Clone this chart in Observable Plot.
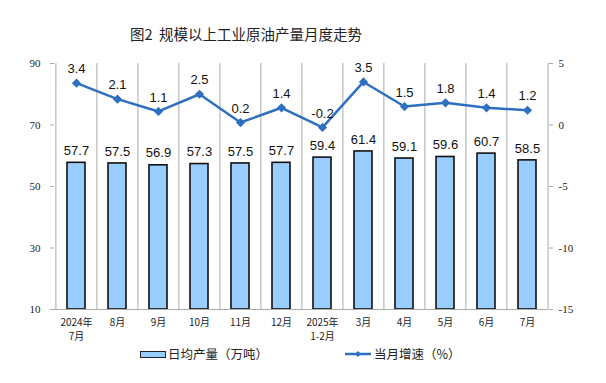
<!DOCTYPE html>
<html><head><meta charset="utf-8">
<script src="https://cdn.jsdelivr.net/npm/d3@7"></script>
<script src="https://cdn.jsdelivr.net/npm/@observablehq/plot@0.6"></script>
<style>
body{margin:0;background:#fff;width:606px;height:383px;overflow:hidden;font-family:"Noto Sans CJK SC",sans-serif;}
#title{height:50px;position:relative;}
#title span{position:absolute;left:246px;top:23px;transform:translateX(-50%);font-size:14.5px;color:#222;white-space:nowrap;}
#chart{height:300px;}
#legend{position:relative;height:33px;font-size:12.5px;color:#222;}
.sw{position:absolute;}
.lt{position:absolute;top:-6px;white-space:nowrap;}
</style></head>
<body>
<div id="title"><span>图2&nbsp;&nbsp;规模以上工业原油产量月度走势</span></div>
<div id="chart"></div>
<div id="legend">
  <div class="sw" style="left:140px;top:1px;width:24px;height:5px;background:#99ccff;border:1px solid #222;"></div>
  <div class="lt" style="left:168px;">日均产量（万吨）</div>
  <svg class="sw" style="left:344px;top:-2px" width="28" height="12"><line x1="1" y1="6" x2="27" y2="6" stroke="#2f6fc0" stroke-width="2.5"/><path d="M14,3L17,6L14,9L11,6Z" fill="#2f6fc0"/></svg>
  <div class="lt" style="left:374px;">当月增速（%）</div>
</div>
<script>
const categories = ["2024年\n7月","8月","9月","10月","11月","12月","2025年\n1-2月","3月","4月","5月","6月","7月"];
const output = [57.7,57.5,56.9,57.3,57.5,57.7,59.4,61.4,59.1,59.6,60.7,58.5];
const growth = [3.4,2.1,1.1,2.5,0.2,1.4,-0.2,3.5,1.5,1.8,1.4,1.2];
const leftTicks = [10,30,50,70,90];
const rightTicks = [-15,-10,-5,0,5];

// right axis (growth, -15..5) mapped onto left axis (10..90)
const toLeft = v => 70 + v * 4;

const bars = categories.map((c,i)=>({c, v: output[i]}));
const line = categories.map((c,i)=>({c, g: growth[i], y: toLeft(growth[i])}));

const chart = Plot.plot({
  width: 606,
  height: 300,
  marginTop: 13,
  marginBottom: 41,
  marginLeft: 54,
  marginRight: 58,
  x: {domain: categories, paddingInner: 0.57, paddingOuter: 0.285},
  y: {domain: [10, 90]},
  style: {fontFamily: "'Noto Sans CJK SC', sans-serif", color: "#222"},
  marks: [
    Plot.barY(bars, {x: "c", y1: 10, y2: "v", fill: "#99ccff", stroke: "#111", strokeWidth: 1.6}),
    Plot.ruleX([categories[0]], {x: d=>d, dx: -20.6, y1: 10, y2: 90, stroke: "#aaa"}),
    Plot.ruleX([categories[11]], {x: d=>d, dx: 20.6, y1: 10, y2: 90, stroke: "#aaa"}),
    Plot.ruleY([10], {stroke: "#aaa"}),
    Plot.tickX(categories.slice(1), {x: d=>d, dx: -20.6, y1: 10, y2: 11.3, stroke: "#aaa"}),
    Plot.axisY(leftTicks, {anchor: "left", tickSize: 4, tickPadding: 10, stroke: "#aaa", fontFamily: "'Liberation Serif', serif", fontSize: 11, label: null}),
    Plot.axisY(rightTicks.map(toLeft), {anchor: "right", tickSize: 4, tickPadding: 6, stroke: "#aaa", tickFormat: v => String((v-70)/4), fontFamily: "'Liberation Serif', serif", fontSize: 11, label: null}),
    Plot.axisX({tickSize: 0, tickPadding: 6, fontSize: 10, lineHeight: 1.45, label: null, fontFamily: "'Noto Sans CJK SC', sans-serif"}),
    Plot.text(bars, {x: "c", y: "v", text: d => d.v.toFixed(1), dy: -12, fontSize: 13, fontFamily: "'Liberation Sans', Arial, sans-serif", fill: "#111"}),
    Plot.line(line, {x: "c", y: "y", stroke: "#2f6fc0", strokeWidth: 2.5}),
    Plot.dot(line, {x: "c", y: "y", symbol: "diamond2", r: 3.2, fill: "#2f6fc0", stroke: "#2f6fc0"}),
    Plot.text(line, {x: "c", y: "y", text: d => d.g.toFixed(1), dy: -14, fontSize: 13, fontFamily: "'Liberation Sans', Arial, sans-serif", fill: "#111"})
  ]
});
document.getElementById("chart").appendChild(chart);
</script>
</body></html>
